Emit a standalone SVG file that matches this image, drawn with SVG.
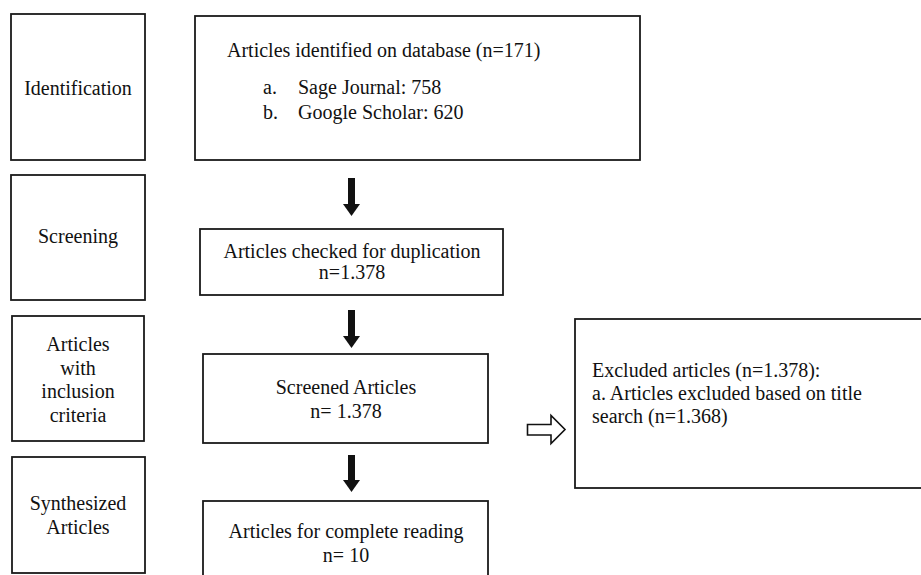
<svg xmlns="http://www.w3.org/2000/svg" width="921" height="575" viewBox="0 0 921 575">
  <style>
    .box { fill: #ffffff; stroke: #1a1a1a; stroke-width: 1.8; }
    .t { font-family: "Liberation Serif", "Times New Roman", serif; font-size: 20px; fill: #111111; }
    .c { text-anchor: middle; }
    .shaft { stroke: #111111; stroke-width: 7; fill: none; }
    .hollow { fill: #ffffff; stroke: #111111; stroke-width: 1.6; stroke-linejoin: miter; }
  </style>
  <defs>
    <marker id="head" markerUnits="userSpaceOnUse" markerWidth="12" markerHeight="17" refX="0" refY="8.5" orient="auto">
      <path d="M0,0 L12,8.5 L0,17 Z" fill="#111111"/>
    </marker>
  </defs>
  <rect width="921" height="575" fill="#ffffff"/>

  <g id="stage-identification">
    <rect class="box" x="11" y="14" width="134" height="146"/>
    <text class="t c" x="78" y="95">Identification</text>
  </g>
  <g id="stage-screening">
    <rect class="box" x="11" y="175" width="134" height="125"/>
    <text class="t c" x="78" y="243">Screening</text>
  </g>
  <g id="stage-inclusion">
    <rect class="box" x="12" y="316" width="132" height="125"/>
    <text class="t c" x="78" y="351">Articles</text>
    <text class="t c" x="78" y="375">with</text>
    <text class="t c" x="78" y="398">inclusion</text>
    <text class="t c" x="78" y="422">criteria</text>
  </g>
  <g id="stage-synthesized">
    <rect class="box" x="12" y="457" width="133" height="116"/>
    <text class="t c" x="78" y="510">Synthesized</text>
    <text class="t c" x="78" y="534">Articles</text>
  </g>

  <g id="identified">
    <rect class="box" x="195" y="16" width="445" height="144"/>
    <text class="t" x="227" y="57">Articles identified on database (n=171)</text>
    <text class="t" x="263" y="94">a.</text>
    <text class="t" x="298" y="94">Sage Journal: 758</text>
    <text class="t" x="263" y="119">b.</text>
    <text class="t" x="298" y="119">Google Scholar: 620</text>
  </g>
  <g id="duplication">
    <rect class="box" x="200" y="229" width="303" height="66"/>
    <text class="t c" x="352" y="258">Articles checked for duplication</text>
    <text class="t c" x="352" y="279">n=1.378</text>
  </g>
  <g id="screened">
    <rect class="box" x="203" y="354" width="285" height="89"/>
    <text class="t c" x="346" y="394">Screened Articles</text>
    <text class="t c" x="346" y="418">n= 1.378</text>
  </g>
  <g id="complete-reading">
    <rect class="box" x="203" y="501" width="285" height="90"/>
    <text class="t c" x="346" y="538">Articles for complete reading</text>
    <text class="t c" x="346" y="562">n= 10</text>
  </g>
  <g id="excluded">
    <rect class="box" x="575" y="319" width="360" height="169"/>
    <text class="t" x="592" y="377">Excluded articles  (n=1.378):</text>
    <text class="t" x="592" y="400">a. Articles excluded based on title</text>
    <text class="t" x="592" y="423">search (n=1.368)</text>
  </g>

  <g id="connectors">
    <line class="shaft" x1="351.5" y1="178" x2="351.5" y2="204" marker-end="url(#head)"/>
    <line class="shaft" x1="351.5" y1="310" x2="351.5" y2="336" marker-end="url(#head)"/>
    <line class="shaft" x1="351.5" y1="455" x2="351.5" y2="480" marker-end="url(#head)"/>
    <polygon class="hollow" points="527.5,424.5 551,424.5 551,415.5 565,429.5 551,443.5 551,435 527.5,435"/>
  </g>
</svg>
